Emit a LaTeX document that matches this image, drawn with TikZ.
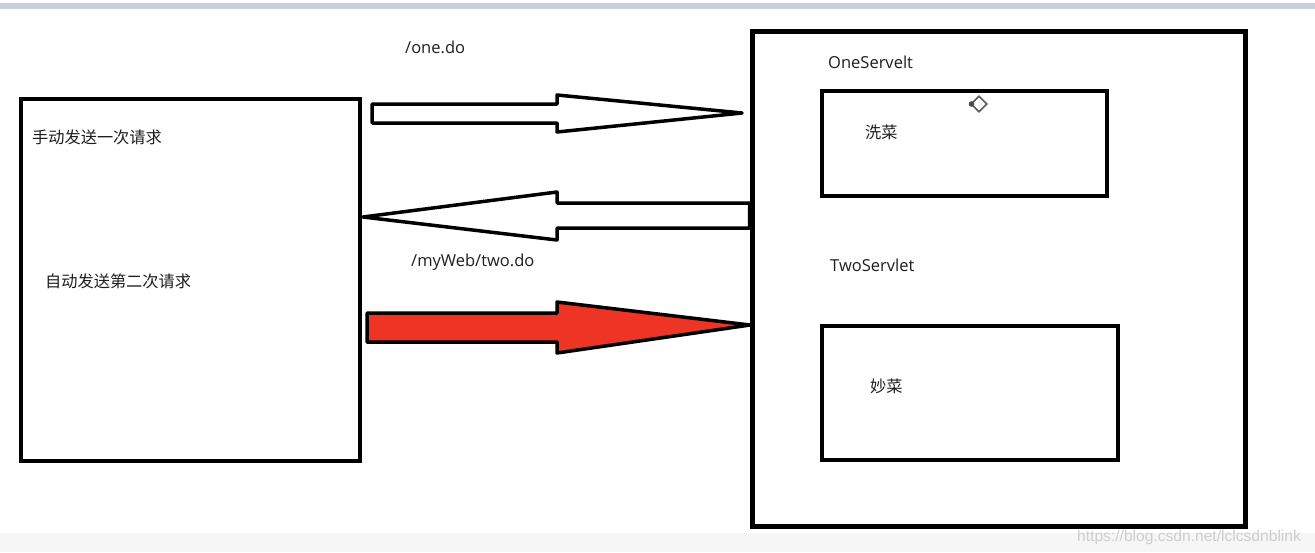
\documentclass[tikz,border=0pt]{standalone}
\usepackage{fontspec}
\setmainfont{Open Sans}
\newfontfamily\cjk{Noto Sans CJK SC}
\newfontfamily\wmfont{Liberation Sans}
\definecolor{stripcol}{RGB}{200,208,220}
\definecolor{bandcol}{RGB}{246,246,246}
\definecolor{redfill}{RGB}{238,52,36}
\definecolor{textcol}{RGB}{30,30,30}
\definecolor{wmcol}{RGB}{205,205,205}
\begin{document}
\begin{tikzpicture}[x=1pt,y=-1pt,
  boxstyle/.style={draw=black,rectangle,inner sep=0pt,fill=none},
  lbl/.style={inner sep=0pt,anchor=west,text=textcol,font=\fontsize{16.5}{19}\selectfont},
  cnlbl/.style={inner sep=0pt,anchor=west,text=textcol,font=\cjk\fontsize{16.2}{19}\selectfont},
  blockarrow/.style={draw=black,line width=3.5pt,line join=round}]
\useasboundingbox (0,0) rectangle (1315,552);
\fill[white] (0,0) rectangle (1315,552);
\fill[stripcol] (0,3) rectangle (1315,9);
\fill[bandcol] (0,533) rectangle (1315,552);

% boxes
\node[boxstyle,line width=4pt,minimum width=339pt,minimum height=362pt] (client) at (190.5,280) {};
\node[boxstyle,line width=5pt,minimum width=493pt,minimum height=495pt] (server) at (998.5,278.5) {};
\node[boxstyle,line width=3.5pt,minimum width=285pt,minimum height=105pt] (one) at (964.5,143.5) {};
\node[boxstyle,line width=3.5pt,minimum width=296pt,minimum height=134pt] (two) at (970,393) {};

% texts
\node[cnlbl] (t1) at (32,137) {手动发送一次请求};
\node[cnlbl] (t2) at (45,281) {自动发送第二次请求};
\node[lbl] (u1) at (405,47) {/one.do};
\node[lbl] (u2) at (411,262) {/myWeb/two.do};
\node[lbl] (s1) at (828,62) {OneServelt};
\node[lbl] (s2) at (830,265) {TwoServlet};
\node[cnlbl] (c1) at (865,132) {洗菜};
\node[cnlbl] (c2) at (870,386) {妙菜};

% block arrows
\draw[blockarrow,fill=white] (372,104) -- (557,104) -- (557,95) -- (742,113) -- (557,132) -- (557,123) -- (372,123) -- cycle;
\draw[blockarrow,fill=white] (server.west |- 0,203) -- (557,203) -- (557,192) -- (363,217) -- (557,240) -- (557,228) -- (server.west |- 0,228) -- cycle;
\draw[blockarrow,fill=redfill] (367,313) -- (557,313) -- (557,302) -- (750,325) -- (557,353) -- (557,342) -- (367,342) -- cycle;

% cursor icon
\draw[gray!70!black,line width=1.6pt,fill=white,rotate around={45:(979,104)}] (973.5,98.5) rectangle (984.5,109.5);
\fill[gray!60!black] (971.5,104) circle (2.8pt);

% watermark
\node[inner sep=0pt,anchor=west,text=wmcol,font=\wmfont\fontsize{15.6}{18}\selectfont] (wm) at (1077,537) {https://blog.csdn.net/lclcsdnblink};
\end{tikzpicture}
\end{document}
